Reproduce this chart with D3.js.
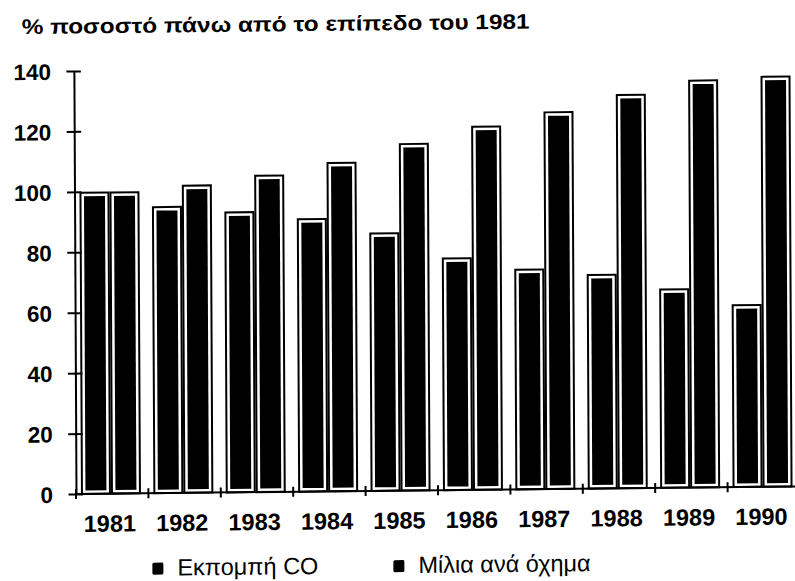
<!DOCTYPE html>
<html>
<head>
<meta charset="utf-8">
<script src="https://cdn.jsdelivr.net/npm/d3@7"></script>
<style>
  html, body { margin: 0; padding: 0; background: #fff; }
  svg { display: block; }
  text { font-family: "Liberation Sans", Arial, sans-serif; fill: #000; }
</style>
</head>
<body>
<svg id="chart" width="795" height="581"></svg>
<script>
// Percent of the 1981 level, per year
const years = ["1981", "1982", "1983", "1984", "1985", "1986", "1987", "1988", "1989", "1990"];
const coEmission = [100, 95, 93, 90.5, 85.5, 77, 73, 71, 66, 60.5];
const milesPerVehicle = [100, 102, 105, 109, 115, 120.5, 125, 130.5, 135, 136];
const seriesNames = ["Εκπομπή CO", "Μίλια ανά όχημα"];
const yTicks = [0, 20, 40, 60, 80, 100, 120, 140];
const titleText = "% ποσοστό πάνω από το επίπεδο του 1981";

const svg = d3.select("#chart");
const originX = 76, originY = 494;

// whole sheet sits slightly askew
const root = svg.append("g")
  .attr("transform", `translate(${originX},${originY}) matrix(1,-0.0105,0.005,1,0,0) translate(${-originX},${-originY})`);

const y = d3.scaleLinear().domain([0, 140]).range([originY, 71]);
const x0 = d3.scaleBand().domain(years).range([originX, 800]).padding(0);
const x1 = d3.scaleBand().domain(seriesNames).range([0, x0.bandwidth()])
  .paddingInner(0).paddingOuter(0.207).align(0.4);

const rows = years.map((yr, i) => ({
  year: yr,
  values: [
    { key: seriesNames[0], value: coEmission[i] },
    { key: seriesNames[1], value: milesPerVehicle[i] }
  ]
}));

// Title
root.append("text")
  .attr("x", 24).attr("y", 33.5)
  .attr("font-size", 21).attr("font-weight", "bold")
  .attr("textLength", 508).attr("lengthAdjust", "spacingAndGlyphs")
  .text(titleText);

// Bars: black outline, white gap, solid black core
const groups = root.append("g").selectAll("g.year")
  .data(rows).join("g")
  .attr("class", "year")
  .attr("transform", d => `translate(${x0(d.year)},0)`);

const bar = groups.selectAll("g.bar").data(d => d.values).join("g").attr("class", "bar");
const inset = 4.5;
bar.append("rect")
  .attr("x", d => x1(d.key) + 1)
  .attr("y", d => y(d.value) + 1)
  .attr("width", x1.bandwidth() - 2)
  .attr("height", d => y(0) - y(d.value) - 1)
  .attr("fill", "#fff").attr("stroke", "#000").attr("stroke-width", 2);
bar.append("rect")
  .attr("x", d => x1(d.key) + inset)
  .attr("y", d => y(d.value) + inset)
  .attr("width", x1.bandwidth() - 2 * inset)
  .attr("height", d => y(0) - y(d.value) - inset - 3.5)
  .attr("fill", "#000");

// Y axis with ticks crossing the line
const yAxis = root.append("g")
  .attr("transform", `translate(${originX},0)`)
  .call(d3.axisLeft(y).tickValues(yTicks).tickSize(7.5).tickSizeOuter(0).tickPadding(0));
yAxis.select(".domain").attr("stroke-width", 2);
yAxis.selectAll(".tick line").attr("x1", 7).attr("stroke-width", 2);
yAxis.selectAll(".tick text")
  .attr("x", 53 - originX)
  .attr("dy", "0.36em")
  .attr("font-size", 22.5).attr("font-weight", "bold")
  .attr("font-family", "\"Liberation Sans\", Arial, sans-serif");

// X axis: labels under each group, ticks at group boundaries
const xAxis = root.append("g")
  .attr("transform", `translate(0,${originY})`)
  .call(d3.axisBottom(x0).tickSize(0).tickPadding(0));
xAxis.select(".domain").remove();
xAxis.selectAll(".tick text")
  .attr("dx", -2.5)
  .attr("y", 38)
  .attr("dy", 0)
  .attr("font-size", 23.5).attr("font-weight", "bold")
  .attr("font-family", "\"Liberation Sans\", Arial, sans-serif");

root.append("line")
  .attr("x1", originX).attr("x2", 800)
  .attr("y1", originY).attr("y2", originY)
  .attr("stroke", "#000").attr("stroke-width", 2);
root.append("g").selectAll("line")
  .data(years).join("line")
  .attr("x1", d => x0(d)).attr("x2", d => x0(d))
  .attr("y1", originY - 5).attr("y2", originY + 5)
  .attr("stroke", "#000").attr("stroke-width", 2);

// Legend
const legendX = [152, 393];
const legend = root.append("g").selectAll("g")
  .data(seriesNames).join("g")
  .attr("transform", (d, i) => `translate(${legendX[i]},576.5)`);
legend.append("rect")
  .attr("x", 0).attr("y", -13).attr("width", 11).attr("height", 12)
  .attr("rx", 1.5).attr("fill", "#000");
legend.append("text")
  .attr("x", 25).attr("y", 0)
  .attr("font-size", 23.5)
  .text(d => d);
</script>
</body>
</html>
